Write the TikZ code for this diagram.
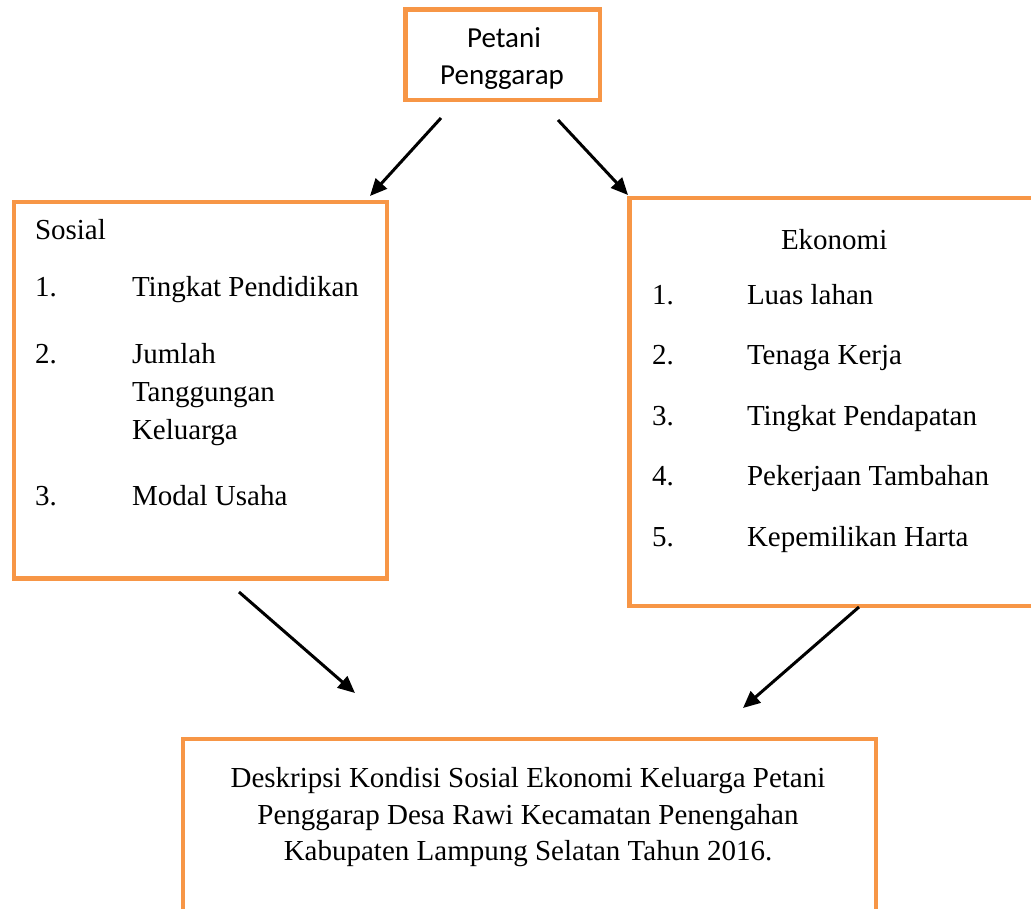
\documentclass[tikz,border=0pt]{standalone}
\usepackage{fontspec}
\setmainfont{Liberation Serif}
\newfontfamily\calib{Carlito}
\usetikzlibrary{arrows.meta}
\definecolor{boxorange}{HTML}{F79646}
\begin{document}
\begin{tikzpicture}[x=1pt,y=-1pt,
  box/.style={draw=boxorange, line width=4.3pt, fill=white, inner sep=0pt, outer sep=0pt},
  txt/.style={inner sep=0pt, outer sep=0pt, anchor=base west, font=\fontsize{29}{36}\selectfont},
  ctxt/.style={txt, anchor=base},
  stxt/.style={inner sep=0pt, outer sep=0pt, anchor=base, font=\calib\fontsize{29}{36}\selectfont},
  arr/.style={line width=3pt, -{Triangle[length=17pt,width=15pt]}}]
\useasboundingbox (0,0) rectangle (1031,909);
\clip (0,0) rectangle (1031,909);
% boxes
\node[box, minimum width=194.5pt, minimum height=90.5pt] (top) at (502.75,54.75) {};
\node[box, minimum width=373pt, minimum height=376.5pt] (sosial) at (200.5,390.25) {};
\node[box, minimum width=415.5pt, minimum height=408pt] (ekonomi) at (837.25,402) {};
\node[box, minimum width=693pt, minimum height=191pt] (hasil) at (529.5,834.5) {};
% top box text
\begin{scope}
\clip (405,9) rectangle (600,89.5);
\node[stxt] (t1) at (504,48) {Petani};
\node[stxt] (t2) at (502,85) {Penggarap};
\end{scope}
% Sosial box
\node[txt] (s0) at (35,240) {Sosial};
\node[txt] (s1n) at (35,297) {1.};
\node[txt] (s1) at (132,297) {Tingkat Pendidikan};
\node[txt] (s2n) at (35,363) {2.};
\node[txt] (s2a) at (132,363) {Jumlah};
\node[txt] (s2b) at (132,401) {Tanggungan};
\node[txt] (s2c) at (132,439) {Keluarga};
\node[txt] (s3n) at (35,505) {3.};
\node[txt] (s3) at (132,505) {Modal Usaha};
% Ekonomi box
\node[txt] (e0) at (781,250) {Ekonomi};
\node[txt] (e1n) at (652,305) {1.};
\node[txt] (e1) at (747,305) {Luas lahan};
\node[txt] (e2n) at (652,365) {2.};
\node[txt] (e2) at (747,365) {Tenaga Kerja};
\node[txt] (e3n) at (652,425) {3.};
\node[txt] (e3) at (747,425) {Tingkat Pendapatan};
\node[txt] (e4n) at (652,485) {4.};
\node[txt] (e4) at (747,485) {Pekerjaan Tambahan};
\node[txt] (e5n) at (652,546) {5.};
\node[txt] (e5) at (747,546) {Kepemilikan Harta};
% bottom box
\node[ctxt] (h1) at (528,787) {Deskripsi Kondisi Sosial Ekonomi Keluarga Petani};
\node[ctxt] (h2) at (528,824) {Penggarap Desa Rawi Kecamatan Penengahan};
\node[ctxt] (h3) at (528,860) {Kabupaten Lampung Selatan Tahun 2016.};
% arrows
\coordinate (a1s) at (441,118); \coordinate (a1e) at (370,196);
\coordinate (a2s) at (558,120); \coordinate (a2e) at (628,195);
\coordinate (a3s) at (239,592); \coordinate (a3e) at (355,693);
\coordinate (a4s) at (859,607); \coordinate (a4e) at (743,708);
\draw[arr] (a1s) -- (a1e);
\draw[arr] (a2s) -- (a2e);
\draw[arr] (a3s) -- (a3e);
\draw[arr] (a4s) -- (a4e);
\end{tikzpicture}
\end{document}
